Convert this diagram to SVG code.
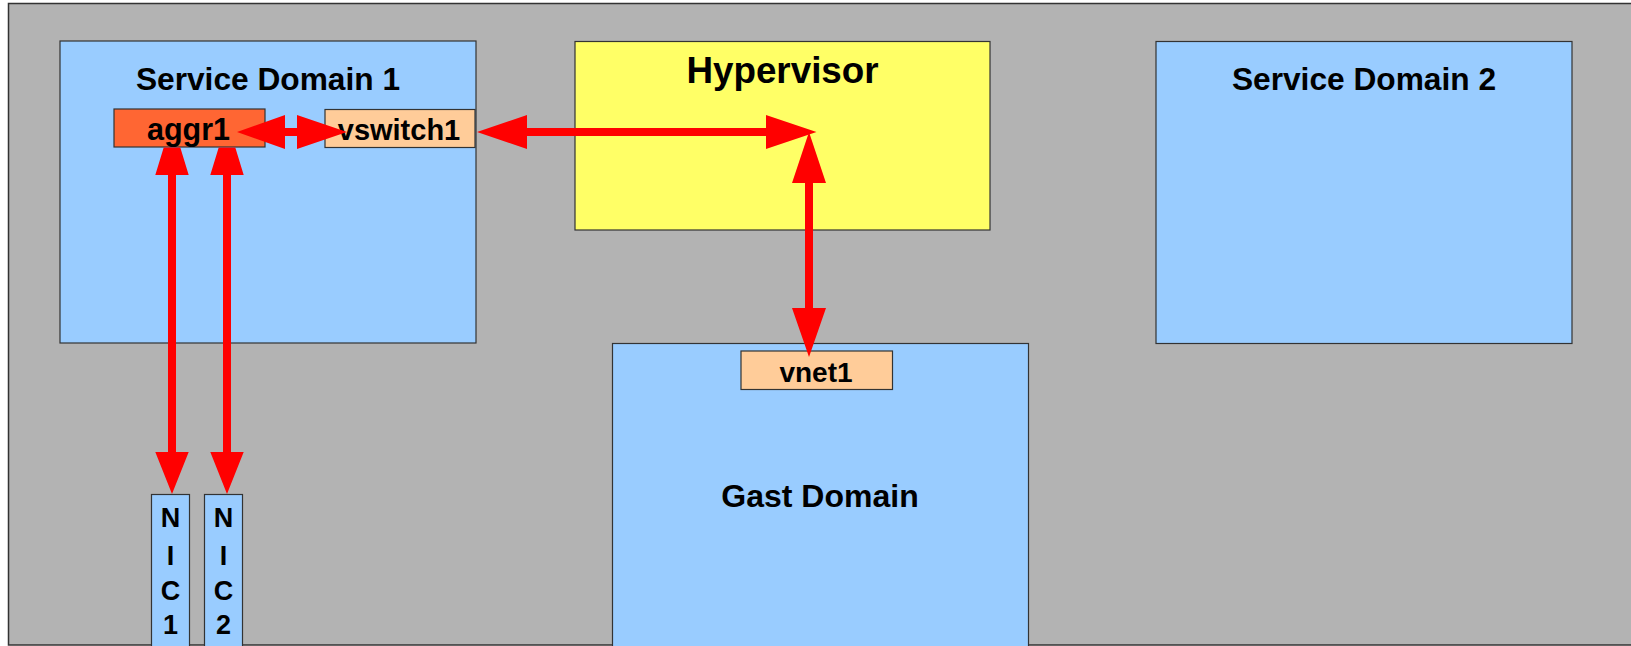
<svg xmlns="http://www.w3.org/2000/svg" width="1631" height="646" viewBox="0 0 1631 646">
<style>
.box{stroke:#333;stroke-width:1.2}
.blue{fill:#99ccff}
.t{font-family:"Liberation Sans",Arial,sans-serif;font-weight:bold;fill:#000;text-anchor:middle}
.arr{fill:#ff0000;stroke:none}
</style>
<rect x="0" y="0" width="1631" height="646" fill="#ffffff"/>
<rect x="8.5" y="3.5" width="1640" height="641.5" fill="#b3b3b3" stroke="#333" stroke-width="1.5"/>
<g id="service-domain-1">
<rect class="box blue" x="60" y="41" width="416" height="302"/>
<text class="t" x="268" y="90" font-size="31.7">Service Domain 1</text>
</g>
<g id="hypervisor">
<rect class="box" fill="#ffff66" x="575" y="41.5" width="415" height="188.5"/>
<text class="t" x="782.5" y="83" font-size="36.8">Hypervisor</text>
</g>
<g id="service-domain-2">
<rect class="box blue" x="1156" y="41.5" width="416" height="302"/>
<text class="t" x="1364" y="90" font-size="31.7">Service Domain 2</text>
</g>
<g id="gast-domain">
<rect class="box blue" x="612.5" y="343.5" width="416" height="310"/>
<text class="t" x="820" y="507" font-size="32">Gast Domain</text>
</g>
<g id="vnet1">
<rect class="box" fill="#ffcc99" x="741" y="351" width="151.5" height="38.5"/>
<text class="t" x="816" y="381.5" font-size="28">vnet1</text>
</g>
<g id="nic1">
<rect class="box blue" x="151.5" y="494.5" width="38" height="160"/>
<text class="t" x="170.5" font-size="27"><tspan x="170.5" y="527">N</tspan><tspan x="170.5" y="565">I</tspan><tspan x="170.5" y="600">C</tspan><tspan x="170.5" y="634">1</tspan></text>
</g>
<g id="nic2">
<rect class="box blue" x="204.5" y="494.5" width="38" height="160"/>
<text class="t" x="223.5" font-size="27"><tspan x="223.5" y="527">N</tspan><tspan x="223.5" y="565">I</tspan><tspan x="223.5" y="600">C</tspan><tspan x="223.5" y="634">2</tspan></text>
</g>
<g id="aggr1">
<rect class="box" fill="#ff6633" x="114" y="109" width="151" height="38"/>
<text class="t" x="188.5" y="140" font-size="30.5">aggr1</text>
</g>
<g id="vswitch1">
<rect class="box" fill="#ffcc99" x="325" y="109.5" width="150" height="38"/>
<text class="t" x="399" y="139.5" font-size="29">vswitch1</text>
</g>
<g id="connectors">
<polygon class="arr" points="237,132 285,115 285,128 297,128 297,115 347,132 297,149 297,136 285,136 285,149"/>
<polygon class="arr" points="477,132 527,115 527,128 766,128 766,115 816.5,132 766,149 766,136 527,136 527,149"/>
<polygon class="arr" points="809,132 826,183 813,183 813,308 826,308 809,357 792,308 805,308 805,183 792,183"/>
<polygon class="arr" points="163.7,147.5 180.3,147.5 188.7,175 176,175 176,452 188.7,452 172,494 155.3,452 168,452 168,175 155.3,175"/>
<polygon class="arr" points="218.7,147.5 235.3,147.5 243.7,175 231,175 231,452 243.7,452 227,494 210.3,452 223,452 223,175 210.3,175"/>
</g>
</svg>
